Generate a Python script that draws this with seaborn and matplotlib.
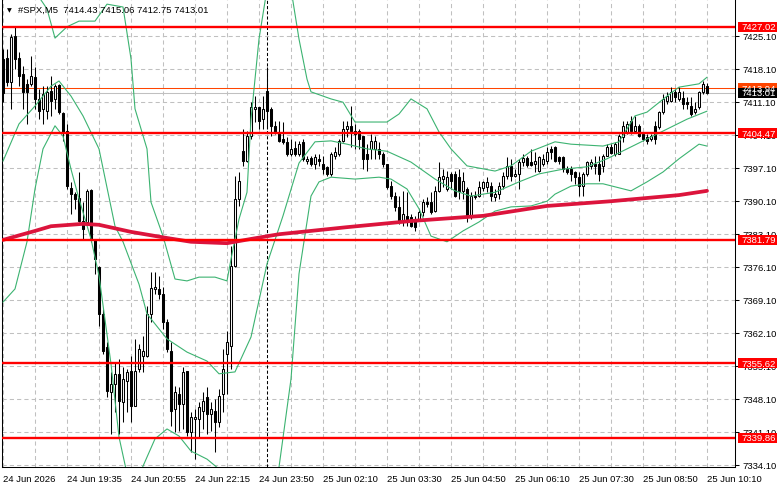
import numpy as np
import matplotlib
matplotlib.use("Agg")
import matplotlib.pyplot as plt
import matplotlib.patches as mpatches
import seaborn as sns

# ===== 数据: #SPX M5 K线 (自左向右) =====
opens = [7420.2, 7420.4, 7415.3, 7425.0, 7420.4, 7417.0, 7414.9, 7414.9, 7416.3, 7411.7,
         7409.6, 7409.1, 7413.4, 7411.7, 7414.6, 7408.7, 7404.9, 7392.8, 7391.5, 7390.7,
         7385.8, 7385.6, 7392.4, 7382.0, 7376.0, 7366.1, 7359.1, 7349.5, 7351.2, 7353.4,
         7347.4, 7351.9, 7354.0, 7346.6, 7354.4, 7357.2, 7357.2, 7366.1, 7371.4, 7371.4,
         7370.3, 7364.4, 7358.2, 7345.9, 7349.1, 7347.0, 7354.0, 7341.1, 7343.8, 7343.8,
         7345.5, 7348.5, 7344.9, 7345.5, 7343.2, 7349.1, 7357.6, 7359.3, 7376.3, 7390.5,
         7400.6, 7398.5, 7403.8, 7409.6, 7410.0, 7407.4, 7413.4, 7409.6, 7406.0, 7404.7,
         7403.2, 7402.6, 7400.0, 7401.3, 7400.0, 7402.6, 7398.5, 7399.2, 7397.9, 7399.0,
         7397.9, 7397.3, 7395.8, 7399.6, 7400.0, 7402.8, 7405.3, 7406.0, 7404.9, 7404.9,
         7403.8, 7400.0, 7401.1, 7401.1, 7401.1, 7400.0, 7397.9, 7393.2, 7391.1, 7388.8,
         7385.6, 7386.9, 7386.7, 7386.2, 7386.2, 7387.7, 7389.8, 7389.8, 7387.9, 7392.2,
         7394.7, 7392.6, 7395.8, 7395.8, 7395.1, 7392.2, 7392.6, 7386.9, 7390.9, 7391.1,
         7392.8, 7393.0, 7393.2, 7390.9, 7391.5, 7393.2, 7395.3, 7397.5, 7395.3, 7395.8,
         7398.3, 7399.2, 7398.3, 7397.9, 7396.4, 7397.9, 7398.5, 7401.1, 7401.5, 7399.4,
         7399.4, 7396.8, 7396.8, 7396.2, 7395.1, 7393.2, 7395.8, 7397.5, 7397.9, 7397.9,
         7397.5, 7399.6, 7401.5, 7400.0, 7400.0, 7403.6, 7404.7, 7407.0, 7404.9, 7406.0,
         7404.3, 7403.6, 7403.2, 7406.0, 7405.7, 7408.9, 7411.3, 7411.3, 7413.2, 7411.7,
         7411.9, 7411.0, 7410.2, 7408.9, 7410.0, 7413.2, 7414.43]
highs = [7422.3, 7422.3, 7425.5, 7427.0, 7421.6, 7418.7, 7415.9, 7420.8, 7418.5, 7413.8,
         7414.4, 7414.4, 7416.6, 7414.9, 7414.9, 7408.9, 7406.4, 7394.1, 7391.9, 7396.2,
         7389.8, 7392.6, 7392.6, 7382.0, 7376.3, 7367.1, 7360.2, 7353.8, 7355.9, 7356.5,
         7354.8, 7354.4, 7357.2, 7360.8, 7359.7, 7361.4, 7367.8, 7375.0, 7375.0, 7374.1,
         7371.8, 7365.0, 7360.2, 7350.8, 7350.6, 7354.8, 7354.0, 7345.3, 7345.9, 7347.4,
         7349.5, 7350.6, 7347.4, 7348.0, 7350.2, 7358.7, 7362.5, 7380.5, 7395.3, 7396.2,
         7405.3, 7404.9, 7411.0, 7412.3, 7410.0, 7412.3, 7418.5, 7410.0, 7407.0, 7407.0,
         7406.8, 7403.6, 7403.2, 7402.8, 7402.8, 7403.2, 7399.6, 7399.6, 7400.0, 7400.0,
         7399.6, 7397.5, 7400.4, 7401.5, 7403.2, 7407.0, 7407.0, 7410.2, 7406.4, 7405.3,
         7403.8, 7402.1, 7404.3, 7403.8, 7402.6, 7400.4, 7397.9, 7394.3, 7392.0, 7391.1,
         7392.2, 7391.9, 7387.3, 7386.9, 7388.4, 7390.5, 7390.9, 7391.9, 7393.2, 7398.3,
         7396.8, 7396.4, 7396.2, 7396.4, 7396.8, 7396.2, 7393.0, 7391.9, 7392.2, 7394.3,
         7394.3, 7395.1, 7394.1, 7392.6, 7394.1, 7396.2, 7399.4, 7399.0, 7396.8, 7399.0,
         7400.0, 7399.6, 7401.1, 7400.4, 7399.6, 7400.0, 7401.5, 7401.7, 7401.7, 7399.6,
         7399.6, 7397.5, 7397.5, 7396.4, 7396.2, 7396.2, 7398.5, 7399.0, 7399.6, 7399.6,
         7400.0, 7402.1, 7402.1, 7402.6, 7404.3, 7407.0, 7407.0, 7408.1, 7408.1, 7406.4,
         7404.7, 7404.3, 7404.3, 7407.0, 7409.1, 7412.7, 7413.2, 7414.2, 7413.8, 7414.2,
         7413.4, 7412.1, 7412.1, 7411.0, 7413.4, 7415.5, 7415.06]
lows = [7411.0, 7414.4, 7409.6, 7418.0, 7414.4, 7409.6, 7406.4, 7414.4, 7409.6, 7407.4,
        7406.4, 7407.4, 7408.1, 7409.6, 7408.5, 7402.8, 7392.6, 7387.3, 7388.4, 7385.6,
        7382.0, 7385.2, 7381.4, 7374.6, 7363.5, 7357.6, 7348.5, 7340.6, 7345.3, 7340.6,
        7343.2, 7345.3, 7343.2, 7346.6, 7353.8, 7353.8, 7357.0, 7364.4, 7370.3, 7369.3,
        7362.9, 7358.0, 7342.3, 7341.1, 7341.3, 7341.7, 7340.2, 7336.8, 7335.3, 7340.0,
        7341.7, 7340.6, 7341.3, 7336.8, 7342.1, 7345.3, 7349.1, 7354.4, 7376.0, 7389.0,
        7397.5, 7398.3, 7403.2, 7406.8, 7405.3, 7405.3, 7405.3, 7403.8, 7404.3, 7402.6,
        7402.1, 7399.6, 7399.6, 7399.6, 7399.6, 7398.5, 7397.9, 7397.5, 7396.8, 7397.5,
        7395.8, 7395.3, 7395.3, 7399.0, 7399.6, 7402.6, 7403.6, 7401.5, 7401.1, 7401.1,
        7396.8, 7396.4, 7399.0, 7399.0, 7399.0, 7397.3, 7392.6, 7390.5, 7387.9, 7385.2,
        7384.7, 7384.7, 7384.5, 7383.7, 7385.8, 7386.9, 7388.8, 7387.3, 7387.7, 7391.9,
        7393.0, 7392.2, 7392.6, 7390.9, 7390.5, 7390.5, 7385.6, 7386.2, 7390.5, 7390.9,
        7392.2, 7391.9, 7390.0, 7390.0, 7390.5, 7392.6, 7394.7, 7394.3, 7395.1, 7392.6,
        7397.5, 7397.3, 7397.5, 7396.2, 7396.2, 7397.5, 7397.9, 7399.0, 7398.3, 7397.9,
        7396.2, 7395.8, 7394.3, 7393.7, 7391.1, 7391.1, 7395.3, 7396.8, 7395.8, 7394.3,
        7396.2, 7399.6, 7400.0, 7399.6, 7400.0, 7402.6, 7404.3, 7404.3, 7404.7, 7403.6,
        7402.8, 7402.1, 7402.8, 7402.1, 7405.3, 7408.5, 7410.6, 7411.0, 7411.0, 7411.3,
        7409.6, 7409.6, 7408.1, 7408.5, 7409.6, 7412.7, 7412.75]
closes = [7413.0, 7415.3, 7424.8, 7420.2, 7416.6, 7413.2, 7413.2, 7416.6, 7411.7, 7409.1,
          7412.7, 7413.2, 7411.3, 7414.4, 7408.9, 7404.7, 7393.2, 7391.5, 7390.5, 7385.8,
          7384.1, 7392.2, 7382.0, 7377.7, 7366.1, 7358.2, 7349.7, 7351.2, 7353.4, 7347.6,
          7352.3, 7353.8, 7346.6, 7354.0, 7358.7, 7358.2, 7366.1, 7371.6, 7371.8, 7370.3,
          7364.4, 7358.7, 7345.5, 7349.5, 7347.0, 7353.8, 7341.1, 7344.2, 7344.2, 7346.4,
          7347.6, 7344.9, 7345.9, 7343.2, 7348.7, 7354.4, 7360.1, 7376.3, 7390.5, 7394.3,
          7398.5, 7403.8, 7410.0, 7410.0, 7407.0, 7409.6, 7409.1, 7406.0, 7404.7, 7402.8,
          7402.6, 7400.0, 7401.1, 7400.0, 7402.1, 7399.0, 7399.0, 7397.9, 7399.4, 7398.5,
          7396.8, 7395.8, 7400.0, 7400.4, 7402.8, 7405.3, 7406.0, 7404.9, 7404.3, 7403.2,
          7399.0, 7399.0, 7402.8, 7402.8, 7400.0, 7397.9, 7393.0, 7391.1, 7388.8, 7385.6,
          7387.3, 7385.8, 7384.7, 7384.5, 7387.7, 7389.8, 7389.4, 7387.7, 7392.2, 7395.1,
          7395.3, 7395.1, 7394.3, 7391.1, 7392.2, 7394.3, 7386.6, 7391.1, 7391.1, 7393.0,
          7394.1, 7394.1, 7391.1, 7391.5, 7393.2, 7395.3, 7397.5, 7395.3, 7395.8, 7398.3,
          7399.2, 7397.7, 7397.7, 7398.5, 7399.4, 7399.0, 7400.4, 7400.4, 7398.5, 7398.5,
          7396.8, 7396.2, 7395.8, 7395.1, 7393.2, 7395.8, 7398.3, 7398.3, 7397.5, 7395.8,
          7399.6, 7401.5, 7400.2, 7402.1, 7403.8, 7406.0, 7406.4, 7404.9, 7406.0, 7403.8,
          7403.2, 7402.8, 7403.8, 7403.2, 7408.9, 7411.7, 7412.3, 7413.2, 7412.1, 7413.2,
          7410.6, 7410.6, 7408.5, 7409.6, 7413.2, 7414.9, 7413.01]

# 时间轴标签 (每 16 根 K 线一个)
time_labels = ["24 Jun 2026", "24 Jun 19:35", "24 Jun 20:55", "24 Jun 22:15",
               "24 Jun 23:50", "25 Jun 02:10", "25 Jun 03:30", "25 Jun 04:50",
               "25 Jun 06:10", "25 Jun 07:30", "25 Jun 08:50", "25 Jun 10:10"]
price_ticks = [7334.10, 7341.10, 7348.10, 7355.10, 7362.10, 7369.10, 7376.10,
               7383.10, 7390.10, 7397.10, 7404.10, 7411.10, 7418.10, 7425.10]

# 水平支撑/阻力位
levels = [7427.02, 7404.47, 7381.79, 7355.62, 7339.86]
bid_price = 7413.01
ask_price = 7413.94
title_text = "#SPX,M5  7414.43 7415.06 7412.75 7413.01"
separator_bar = 66  # 25 Jun 00:00

# 布林带 (上/中/下轨), 按 K 线序号读取
bb_up_idx = [0, 5, 9, 11, 13, 16, 19, 23, 26, 30, 32, 33, 36, 37, 40, 43, 46, 49, 53, 56,
             57, 59, 61, 62, 64, 66, 69, 72, 74, 76, 77, 82, 85, 88, 96, 99, 102, 106, 109, 112,
             116, 123, 127, 132, 138, 142, 150, 154, 158, 161, 166, 169, 174, 176]
bb_up = [7440.9, 7436.1, 7433.3, 7430.8, 7424.6, 7427.0, 7428.2, 7428.2, 7431.8, 7431.2,
         7420.2, 7409.6, 7401.1, 7389.8, 7382.6, 7373.5, 7373.1, 7373.9, 7373.9, 7373.1,
         7377.7, 7386.2, 7391.9, 7407.4, 7424.4, 7435.0, 7441.4, 7435.0, 7424.4, 7415.9,
         7413.2, 7411.7, 7411.0, 7406.8, 7406.8, 7408.5, 7411.7, 7409.6, 7404.7, 7401.1,
         7397.5, 7396.4, 7397.5, 7400.6, 7402.6, 7402.1, 7401.7, 7402.6, 7408.1, 7408.9,
         7412.3, 7414.2, 7414.9, 7416.3]
bb_mid_idx = [0, 4, 8, 12, 14, 17, 20, 24, 28, 30, 34, 36, 41, 46, 51, 54, 58, 62, 66, 70,
              74, 78, 82, 86, 91, 96, 102, 108, 113, 117, 123, 129, 134, 140, 146, 151, 156,
              161, 166, 171, 176]
bb_mid = [7398.5, 7406.4, 7410.2, 7414.4, 7415.5, 7412.3, 7408.1, 7401.1, 7384.7, 7381.4,
          7372.4, 7366.1, 7360.8, 7358.0, 7356.1, 7353.4, 7353.8, 7361.2, 7376.7, 7386.9,
          7398.1, 7402.6, 7402.8, 7402.1, 7401.1, 7400.6, 7398.3, 7394.7, 7392.2, 7391.1,
          7391.9, 7394.1, 7395.8, 7396.8, 7397.3, 7399.0, 7401.1, 7403.2, 7405.3, 7407.4,
          7409.1]
bb_low_idx = [0, 3, 6, 8, 10, 13, 15, 17, 19, 22, 24, 27, 29, 31, 33, 35, 38, 41, 44, 47,
              51, 54, 57, 62, 66, 69, 72, 74, 77, 79, 82, 88, 94, 97, 101, 104, 107, 111, 115,
              119, 123, 127, 132, 136, 138, 142, 146, 150, 157, 161, 165, 169, 174, 176]
bb_low = [7368.6, 7371.4, 7381.4, 7392.6, 7401.1, 7406.0, 7403.8, 7396.8, 7390.5, 7382.0,
          7374.2, 7355.5, 7340.0, 7332.2, 7330.0, 7333.8, 7339.6, 7341.7, 7340.2, 7337.0,
          7335.3, 7333.2, 7326.8, 7314.1, 7318.4, 7333.6, 7352.3, 7374.6, 7391.1, 7394.1,
          7395.1, 7394.7, 7395.1, 7394.7, 7392.6, 7388.4, 7382.6, 7381.4, 7383.7, 7385.6,
          7387.9, 7388.8, 7389.0, 7390.0, 7391.5, 7393.2, 7393.7, 7393.7, 7392.2, 7394.1,
          7396.2, 7399.0, 7402.1, 7401.7]

# 长周期均线
ma_idx = [0, 8, 12, 20, 24, 32, 41, 47, 56, 62, 69, 86, 102, 120, 136, 152, 169, 176]
ma_vals = [7381.8, 7383.7, 7384.7, 7385.2, 7385.0, 7383.5, 7382.2, 7381.4, 7381.1, 7382.0,
           7383.0, 7384.5, 7385.8, 7386.9, 7389.0, 7390.0, 7391.3, 7392.2]

# ===== 样式 =====
sns.set_style("white")
plt.rcParams["font.family"] = ["Liberation Sans", "DejaVu Sans"]
FS = 6.8
W, H = 781, 489
GRID = "#c0c0c0"

fig = plt.figure(figsize=(W / 100, H / 100), dpi=100)
ax = fig.add_axes([2 / W, 21 / H, 733 / W, 467 / H])
ax.set_xlim(-0.25, 183.0)
ax.set_ylim(7333.63, 7432.68)

# ===== 网格 =====
n = len(closes)
ax.set_xticks(np.arange(0, n, 16))
ax.set_xticks(np.arange(8, n, 16), minor=True)
ax.set_xticklabels(time_labels)
ax.set_yticks(price_ticks)
ax.set_yticklabels([f"{p:.2f}" for p in price_ticks])
ax.grid(True, which="both", axis="x", color=GRID, ls=(0, (4, 3)), lw=0.75)
ax.grid(True, which="major", axis="y", color=GRID, ls=(0, (4, 3)), lw=0.75)
ax.set_axisbelow(True)

ax.yaxis.tick_right()
ax.tick_params(axis="y", direction="out", length=3, width=0.75, labelsize=FS, pad=2.5,
               colors="black")
ax.tick_params(axis="x", which="major", direction="out", length=4, width=0.75,
               labelsize=FS, pad=1, colors="black")
ax.tick_params(axis="x", which="minor", length=0)
for lbl in ax.get_xticklabels():
    lbl.set_horizontalalignment("left")

for side in ["left", "right", "bottom"]:
    ax.spines[side].set_visible(True)
    ax.spines[side].set_color("black")
    ax.spines[side].set_linewidth(0.75)
ax.spines["top"].set_visible(False)

# 日分隔线 / bid / ask
ax.axvline(separator_bar, color="black", ls=(0, (3, 2)), lw=0.75, zorder=1.5)
ax.axhline(bid_price, color="#c0c0c0", lw=0.75, zorder=1.6)
ax.axhline(ask_price, color="#ff4500", lw=0.75, zorder=1.6)

# ===== K线 =====
idx = np.arange(n)
o = np.array(opens)
c = np.array(closes)
up = c >= o
body_bottom = np.minimum(o, c)
body_h = np.maximum(np.abs(c - o), 0.12)
ax.vlines(idx, lows, highs, color="black", lw=0.75, zorder=3)
ax.bar(idx[up], body_h[up], bottom=body_bottom[up], width=0.62, color="white",
       edgecolor="black", lw=0.75, zorder=4)
ax.bar(idx[~up], body_h[~up], bottom=body_bottom[~up], width=0.62, color="black",
       edgecolor="black", lw=0.75, zorder=4)

# ===== 指标 =====
for xs, ys in [(bb_up_idx, bb_up), (bb_mid_idx, bb_mid), (bb_low_idx, bb_low)]:
    sns.lineplot(x=xs, y=ys, ax=ax, color="#3cb371", lw=0.8, zorder=5)
sns.lineplot(x=ma_idx, y=ma_vals, ax=ax, color="#dc143c", lw=2.7, zorder=5)

for lv in levels:
    ax.axhline(lv, color="#ff0000", lw=1.7, zorder=6)

ax.set_xlabel("")
ax.set_ylabel("")

# ===== 右侧价格标签 =====
ylo, yhi = ax.get_ylim()
px = (yhi - ylo) / 467.0
trans = ax.get_yaxis_transform()


def price_tag(price, face):
    h = 10 * px
    ax.add_patch(mpatches.Rectangle((1.0037, price - h / 2), 0.0537, h, transform=trans,
                                    facecolor=face, edgecolor="none", clip_on=False,
                                    zorder=10))
    ax.text(1.0085, price, f"{price:.2f}", transform=trans, ha="left", va="center",
            color="white", fontsize=FS, clip_on=False, zorder=11)


for lv in levels:
    price_tag(lv, "#ff0000")
price_tag(ask_price, "#ff4500")
price_tag(bid_price, "black")

# ===== 标题 =====
fig.text(7 / W, 1 - 10.5 / H, "▼", fontsize=4.5, family="DejaVu Sans", va="center",
         ha="left", color="black")
fig.text(18 / W, 1 - 10.7 / H, title_text, fontsize=FS, va="center", ha="left",
         color="black")

fig.savefig("out.png", dpi=100)
